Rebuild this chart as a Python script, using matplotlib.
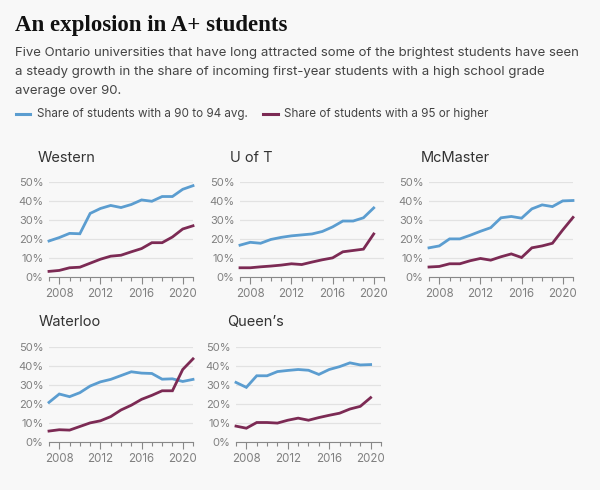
import matplotlib
matplotlib.use("Agg")
import matplotlib.pyplot as plt
from matplotlib.ticker import FixedLocator

plt.rcParams['font.family'] = ['Inter', 'DejaVu Sans']

years = list(range(2007, 2022))

western_90 = [18.8, 20.6, 22.8, 22.6, 33.3, 35.9, 37.5, 36.4, 38.0, 40.4, 39.7, 42.2, 42.2, 46.0, 47.9]
western_95 = [2.8, 3.3, 4.7, 5.0, 7.1, 9.2, 10.8, 11.3, 13.1, 14.8, 17.9, 17.9, 20.9, 25.1, 26.8]

uoft_90 = [16.6, 18.1, 17.6, 19.6, 20.7, 21.5, 22.0, 22.5, 23.8, 26.2, 29.3, 29.3, 31.0, 36.2]
uoft_95 = [4.7, 4.7, 5.2, 5.6, 6.1, 6.8, 6.4, 7.7, 8.9, 9.9, 13.1, 13.8, 14.5, 22.5]

mcmaster_90 = [15.2, 16.2, 19.9, 19.9, 21.8, 23.9, 25.8, 31.0, 31.7, 30.8, 35.7, 37.8, 36.9, 39.9, 40.1]
mcmaster_95 = [5.1, 5.4, 6.8, 6.8, 8.4, 9.6, 8.7, 10.5, 12.0, 10.1, 15.2, 16.2, 17.6, 24.6, 31.2]

waterloo_90 = [20.7, 25.1, 23.7, 25.8, 29.3, 31.5, 32.8, 34.8, 36.8, 36.1, 35.9, 32.9, 33.1, 31.7, 32.8]
waterloo_95 = [5.6, 6.3, 6.1, 8.0, 9.9, 11.0, 13.2, 16.7, 19.2, 22.3, 24.4, 26.8, 26.8, 38.0, 43.6]

queens_90 = [31.2, 28.6, 34.7, 34.7, 36.9, 37.5, 38.0, 37.6, 35.4, 38.0, 39.5, 41.5, 40.4, 40.6]
queens_95 = [8.2, 7.1, 10.1, 10.1, 9.8, 11.3, 12.4, 11.3, 12.7, 13.9, 15.0, 17.2, 18.6, 23.2]

names = ["Western", "U of T", "McMaster", "Waterloo", "Queen\u2019s"]
series = [(western_90, western_95), (uoft_90, uoft_95), (mcmaster_90, mcmaster_95),
          (waterloo_90, waterloo_95), (queens_90, queens_95)]
yticks = [0, 10, 20, 30, 40, 50]
ytick_labels = ["0%", "10%", "20%", "30%", "40%", "50%"]
xticks = [2008, 2012, 2016, 2020]

BLUE = "#5b9dd0"
PURPLE = "#7c2a54"
BG = "#f8f8f8"
W, H = 600, 490

fig = plt.figure(figsize=(6, 4.9), dpi=100, facecolor=BG)

fig.text(15 / W, 1 - 25 / H, "An explosion in A+ students", family=['Liberation Serif', 'DejaVu Serif'],
         fontsize=16.5, fontweight='bold', color="#111111", va='center', ha='left')
sub = ("Five Ontario universities that have long attracted some of the brightest students have seen\n"
       "a steady growth in the share of incoming first-year students with a high school grade\n"
       "average over 90.")
fig.text(15 / W, 1 - 47 / H, sub, fontsize=9.5, color="#444444", va='top', ha='left', linespacing=1.78)

# legend
ly = 1 - 114 / H
fig.add_artist(plt.Line2D([16 / W, 30 / W], [ly, ly], color=BLUE, lw=2.2))
fig.text(37 / W, ly, "Share of students with a 90 to 94 avg.", fontsize=8.4, color="#444444", va='center')
fig.add_artist(plt.Line2D([263 / W, 278 / W], [ly, ly], color=PURPLE, lw=2.2))
fig.text(284 / W, ly, "Share of students with a 95 or higher", fontsize=8.4, color="#444444", va='center')

# panel geometry in pixels: (left, right, bottom(0%), top(50%), title_x, title_y)
panels = [
    (49, 193, 276.7, 181.7, 38, 158),
    (240, 384, 276.7, 181.7, 230, 158),
    (429, 573, 276.7, 181.7, 421, 158),
    (49, 193, 441.7, 346.7, 39, 322),
    (236, 381, 441.7, 346.7, 227, 322),
]

for (name, (s90, s95), (l, r, b, t, tx, ty)) in zip(names, series, panels):
    ax = fig.add_axes([l / W, 1 - b / H, (r - l) / W, (b - t) / H])
    ax.set_facecolor(BG)
    yrs = years[:len(s90)]
    ax.plot(yrs, s90, color=BLUE, lw=2.0, solid_joinstyle='miter', clip_on=False, zorder=3)
    ax.plot(yrs, s95, color=PURPLE, lw=2.0, solid_joinstyle='miter', clip_on=False, zorder=3)
    ax.set_xlim(2007, 2021)
    ax.set_ylim(0, 50)
    ax.set_yticks(yticks)
    ax.set_yticklabels(ytick_labels)
    ax.set_xticks(xticks)
    ax.set_xticklabels([str(x) for x in xticks])
    ax.xaxis.set_minor_locator(FixedLocator(years))
    for sp in ['top', 'right', 'left']:
        ax.spines[sp].set_visible(False)
    ax.spines['bottom'].set_color("#888888")
    ax.spines['bottom'].set_linewidth(0.8)
    ax.grid(axis='y', color="#e2e2e2", lw=0.9, zorder=0)
    ax.set_axisbelow(True)
    ax.tick_params(axis='y', length=0, pad=4, labelsize=8, labelcolor="#808080")
    ax.tick_params(axis='x', which='major', length=5, width=0.8, color="#888888", pad=3,
                   labelsize=8.3, labelcolor="#808080")
    ax.tick_params(axis='x', which='minor', length=3, width=0.8, color="#888888")
    fig.text(tx / W, 1 - ty / H, name, fontsize=10.5, color="#333333", va='center', ha='left')

fig.savefig("out.png", dpi=100, facecolor=BG)
